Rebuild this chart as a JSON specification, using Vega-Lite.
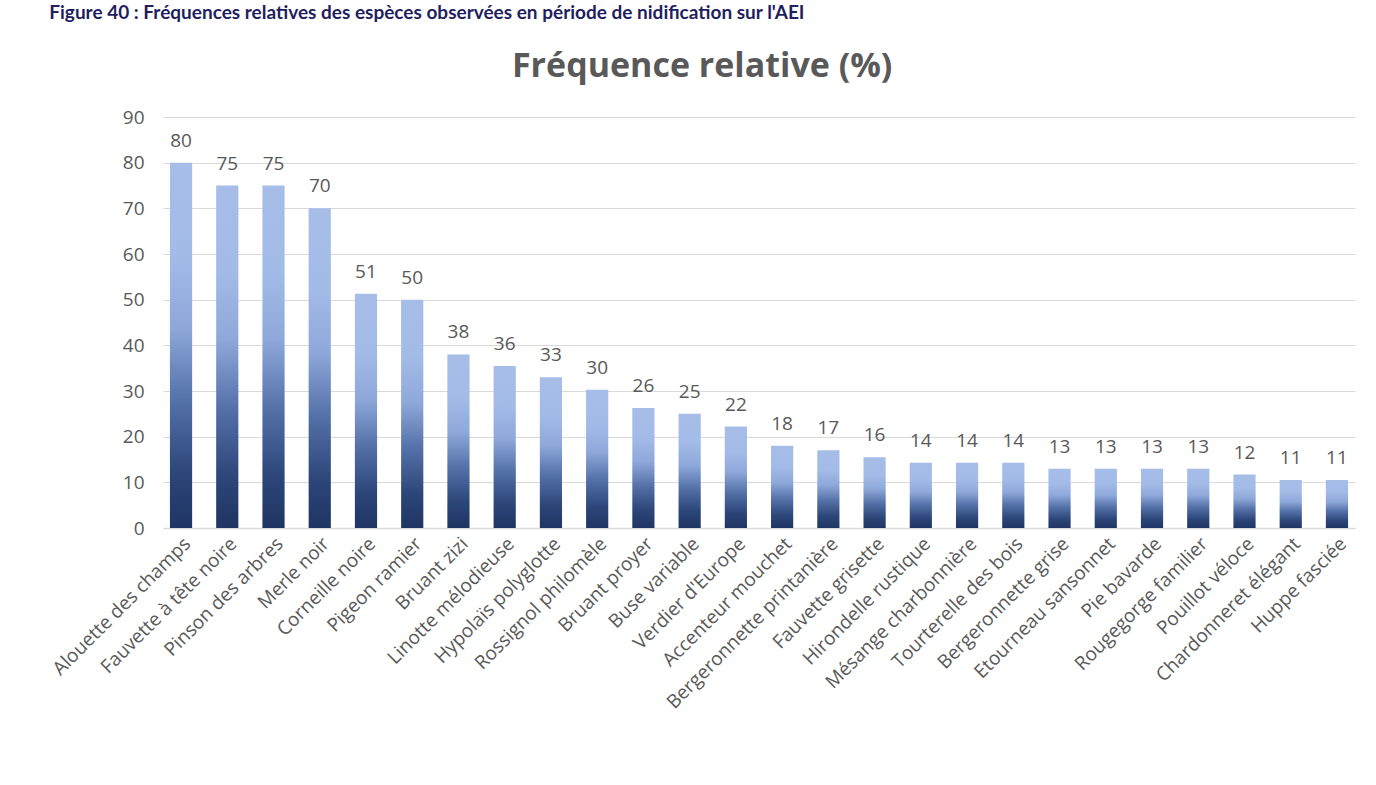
{
  "$schema": "https://vega.github.io/schema/vega-lite/v6.json",
  "background": "white",
  "padding": {"left": 49, "top": 4, "right": 10, "bottom": 0},
  "title": {
    "text": "Figure 40 : Fréquences relatives des espèces observées en période de nidification sur l'AEI",
    "anchor": "start",
    "frame": "bounds",
    "font": "Lato",
    "fontSize": 19,
    "fontWeight": "bold",
    "color": "#1f1f5f",
    "offset": 27
  },
  "datasets": {
    "birds": [
      {"espece": "Alouette des champs", "frequence": 80},
      {"espece": "Fauvette à tête noire", "frequence": 75},
      {"espece": "Pinson des arbres", "frequence": 75},
      {"espece": "Merle noir", "frequence": 70},
      {"espece": "Corneille noire", "frequence": 51.3},
      {"espece": "Pigeon ramier", "frequence": 50},
      {"espece": "Bruant zizi", "frequence": 38},
      {"espece": "Linotte mélodieuse", "frequence": 35.5},
      {"espece": "Hypolaïs polyglotte", "frequence": 33},
      {"espece": "Rossignol philomèle", "frequence": 30.3},
      {"espece": "Bruant proyer", "frequence": 26.3},
      {"espece": "Buse variable", "frequence": 25},
      {"espece": "Verdier d'Europe", "frequence": 22.2},
      {"espece": "Accenteur mouchet", "frequence": 18},
      {"espece": "Bergeronnette printanière", "frequence": 17},
      {"espece": "Fauvette grisette", "frequence": 15.5},
      {"espece": "Hirondelle rustique", "frequence": 14.3},
      {"espece": "Mésange charbonnière", "frequence": 14.3},
      {"espece": "Tourterelle des bois", "frequence": 14.3},
      {"espece": "Bergeronnette grise", "frequence": 13},
      {"espece": "Etourneau sansonnet", "frequence": 13},
      {"espece": "Pie bavarde", "frequence": 13},
      {"espece": "Rougegorge familier", "frequence": 13},
      {"espece": "Pouillot véloce", "frequence": 11.7},
      {"espece": "Chardonneret élégant", "frequence": 10.5},
      {"espece": "Huppe fasciée", "frequence": 10.5}
    ]
  },
  "vconcat": [
    {
      "width": 1192,
      "height": 411,
      "data": {"name": "birds"},
      "title": {
        "text": "Fréquence relative (%)",
        "anchor": "middle",
        "frame": "bounds",
        "font": "Open Sans",
        "fontSize": 34,
        "fontWeight": "bold",
        "color": "#595959",
        "offset": 24
      },
      "encoding": {
        "x": {
          "field": "espece",
          "type": "nominal",
          "sort": null,
          "scale": {"paddingInner": 0.52, "paddingOuter": 0.15},
          "axis": {
            "title": null,
            "labelAngle": -45,
            "labelFont": "Open Sans",
            "labelFontSize": 19,
            "labelColor": "#595959",
            "labelPadding": 6,
            "labelLimit": 400,
            "ticks": false,
            "domainColor": "#d9d9d9",
            "domainWidth": 1.5
          }
        },
        "y": {
          "field": "frequence",
          "type": "quantitative",
          "scale": {"domain": [0, 90]},
          "axis": {
            "title": null,
            "values": [0, 10, 20, 30, 40, 50, 60, 70, 80, 90],
            "labelFont": "Open Sans",
            "labelFontSize": 19,
            "labelColor": "#595959",
            "labelPadding": 19,
            "ticks": false,
            "domain": false,
            "gridColor": "#d9d9d9",
            "gridWidth": 1.2
          }
        }
      },
      "layer": [
        {
          "mark": {
            "type": "bar",
            "color": {
              "gradient": "linear",
              "x1": 0, "y1": 1, "x2": 0, "y2": 0,
              "stops": [
                {"offset": 0, "color": "#1f3563"},
                {"offset": 0.15, "color": "#2c4679"},
                {"offset": 0.35, "color": "#5471a8"},
                {"offset": 0.55, "color": "#8ea8da"},
                {"offset": 0.75, "color": "#a3bbe7"},
                {"offset": 1, "color": "#a6bde8"}
              ]
            }
          }
        },
        {
          "mark": {
            "type": "text",
            "baseline": "bottom",
            "dy": -12,
            "font": "Open Sans",
            "fontSize": 19,
            "color": "#595959"
          },
          "encoding": {
            "text": {"field": "frequence", "type": "quantitative", "format": ".0f"}
          }
        }
      ]
    }
  ],
  "config": {
    "view": {"stroke": null}
  }
}
